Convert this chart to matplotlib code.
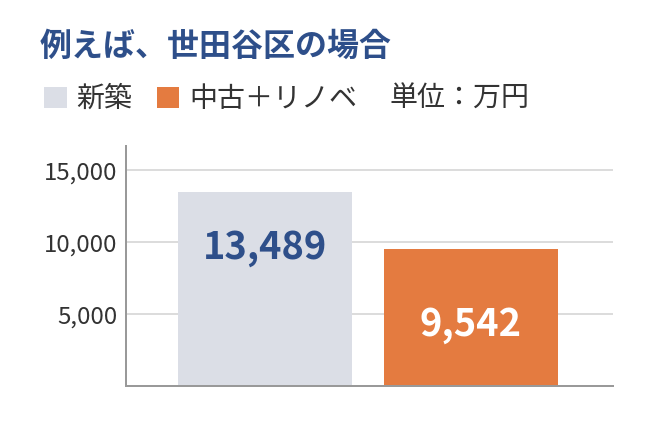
import matplotlib
matplotlib.use('Agg')
import matplotlib.pyplot as plt
from matplotlib.patches import Patch

plt.rcParams['font.family'] = ['Noto Sans CJK JP', 'DejaVu Sans']

# data
categories = ['新築', '中古＋リノベ']
values = [13489, 9542]
yticks = [5000, 10000, 15000]
title = '例えば、世田谷区の場合'
unit_label = '単位：万円'

colors = ['#dbdee6', '#e47b40']
label_colors = ['#2e4f8a', '#ffffff']
label_offsets = [-55, -76]  # px below bar top

px = 0.72  # px -> pt at dpi 100

fig = plt.figure(figsize=(6.7, 4.26), dpi=100)
ax = fig.add_axes([126 / 670, 40 / 426, 487 / 670, 240 / 426])

x = list(range(len(values)))
bars = ax.bar(x, values, width=0.845, color=colors, zorder=2)

ax.set_xlim(-0.675, 1.689)
ax.set_ylim(0, 16700)
ax.set_yticks(yticks)
ax.set_yticklabels([f'{v:,}' for v in yticks])
ax.set_xticks([])
ax.tick_params(axis='y', length=0, pad=9 * px, labelsize=24 * px, labelcolor='#333333')
ax.grid(axis='y', color='#dcdcdc', linewidth=2 * px, zorder=1)

for s in ['top', 'right']:
    ax.spines[s].set_visible(False)
for s in ['left', 'bottom']:
    ax.spines[s].set_color('#999999')
    ax.spines[s].set_linewidth(2 * px)
    ax.spines[s].set_zorder(3)

for b, v, c, off in zip(bars, values, label_colors, label_offsets):
    ax.annotate(f'{v:,}', (b.get_x() + b.get_width() / 2, v),
                xytext=(0, off * px), textcoords='offset points',
                ha='center', va='center', color=c, fontsize=38 * px,
                fontweight='bold', zorder=4)

fig.text(40 / 670, 1 - 47 / 426, title, fontsize=32 * px, fontweight='bold',
         color='#2e4f8a', va='center', ha='left')

handles = [Patch(facecolor=c, edgecolor='none') for c in colors]
fig.legend(handles, categories, loc='center left',
           bbox_to_anchor=(33 / 670, 1 - 99 / 426), ncol=2, frameon=False,
           fontsize=28 * px, handlelength=0.8, handleheight=0.8,
           handletextpad=0.36, columnspacing=0.86, borderaxespad=0,
           labelcolor='#333333')
fig.text(389 / 670, 1 - 99 / 426, unit_label, fontsize=28 * px,
         color='#333333', va='center', ha='left')

fig.savefig('out.png', dpi=100)
